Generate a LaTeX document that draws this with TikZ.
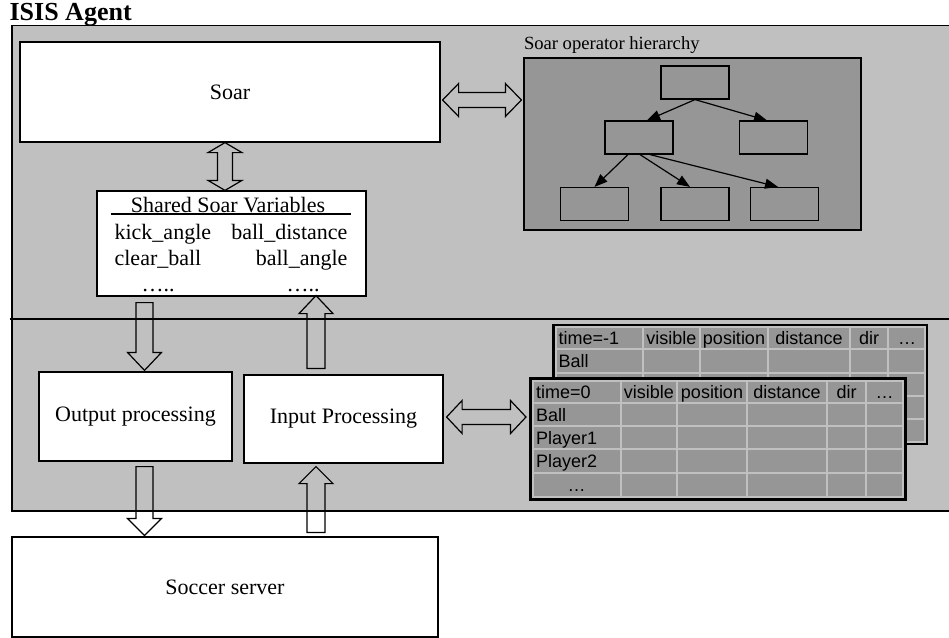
\documentclass[tikz,border=0pt]{standalone}
\usepackage{fontspec}
\setmainfont{Liberation Serif}
\newfontfamily\cellfont{Liberation Sans}
\usetikzlibrary{arrows.meta,calc}

\definecolor{agentgray}{HTML}{C0C0C0}
\definecolor{opgray}{HTML}{969696}

% hollow block arrows: from, to, half shaft, half head, head length
\newcommand{\onewayarrow}[5]{%
  \coordinate (fa-s) at #1;
  \coordinate (fa-e) at #2;
  \coordinate (fa-h) at ($(fa-e)!#5!(fa-s)$);
  \draw[blockarrow] ($(fa-s)!#3!90:(fa-e)$) -- ($(fa-h)!#3!90:(fa-e)$)
    -- ($(fa-h)!#4!90:(fa-e)$) -- (fa-e) -- ($(fa-h)!#4!-90:(fa-e)$)
    -- ($(fa-h)!#3!-90:(fa-e)$) -- ($(fa-s)!#3!-90:(fa-e)$) -- cycle;
}
\newcommand{\twowayarrow}[5]{%
  \coordinate (fa-s) at #1;
  \coordinate (fa-e) at #2;
  \coordinate (fa-a) at ($(fa-s)!#5!(fa-e)$);
  \coordinate (fa-b) at ($(fa-e)!#5!(fa-s)$);
  \draw[blockarrow] (fa-s) -- ($(fa-a)!#4!90:(fa-e)$) -- ($(fa-a)!#3!90:(fa-e)$)
    -- ($(fa-b)!#3!90:(fa-e)$) -- ($(fa-b)!#4!90:(fa-e)$) -- (fa-e)
    -- ($(fa-b)!#4!-90:(fa-e)$) -- ($(fa-b)!#3!-90:(fa-e)$)
    -- ($(fa-a)!#3!-90:(fa-e)$) -- ($(fa-a)!#4!-90:(fa-e)$) -- cycle;
}

\begin{document}
\begin{tikzpicture}[x=0.5pt,y=-0.5pt,>={Triangle[length=6.5pt,width=5pt]},line width=0.6pt,
  box/.style={draw,fill=white,inner sep=0pt,font=\fontsize{11}{13}\selectfont},
  opbox/.style={draw,fill=opgray,minimum width=34pt,minimum height=16.5pt,inner sep=0pt},
  blockarrow/.style={draw,line width=0.6pt,line join=miter},
  varlabel/.style={inner sep=0pt,font=\fontsize{11}{13}\selectfont},
  celltext/.style={inner sep=0pt,font=\cellfont\fontsize{9}{11}\selectfont},
  tableframe/.style={draw,fill=agentgray,inner sep=0pt}]

\useasboundingbox (0,0) rectangle (949,638);

% agent area
\fill[agentgray] (12,25.5) rectangle (949,511);
\draw (949,25.5) -- (12,25.5) -- (12,511) -- (949,511);
\draw[line width=1.1pt] (10,319.3) -- (949,319.3);
\node[anchor=base west,inner sep=0pt,font=\bfseries\fontsize{13}{15}\selectfont] (title) at (9,20) {ISIS Agent};

\node[box,minimum width=210pt,minimum height=50pt]   (soar)   at (230,92)    {Soar};
\node[box,minimum width=134.5pt,minimum height=52.5pt] (shared) at (231.5,243.5) {};
\node[box,minimum width=96.5pt,minimum height=44.5pt] (out)    at (135.5,416.5) {Output processing};
\node[box,minimum width=99.5pt,minimum height=44pt]   (inp)    at (343.5,419)  {Input Processing};
\node[box,minimum width=213pt,minimum height=50pt]   (soccer) at (225,587)    {Soccer server};

% shared variables
\node[varlabel,anchor=base] (sharedtitle) at (228,212) {Shared Soar Variables};
\draw (111,214) -- (351,214);
\node[varlabel,anchor=base west] (kick)  at (114,239) {kick\_angle};
\node[varlabel,anchor=base east] (dist)  at (348,239) {ball\_distance};
\node[varlabel,anchor=base west] (clear) at (114,265) {clear\_ball};
\node[varlabel,anchor=base east] (angle) at (348,265) {ball\_angle};
\node[varlabel,anchor=base] (moreout) at (158,291) {…..};
\node[varlabel,anchor=base] (morein)  at (303,291) {…..};

% operator hierarchy
\node[draw,fill=opgray,minimum width=168.5pt,minimum height=86pt,inner sep=0pt] (hier) at (692.5,144) {};
\node[anchor=base west,inner sep=0pt,font=\fontsize{9.3}{11}\selectfont] (hiertitle)
  at ($(hier.north west)+(0,-8)$) {Soar operator hierarchy};
\node[opbox] (top) at (695,82.5)  {};
\node[opbox] (ml)  at (639,137.5) {};
\node[opbox] (mr)  at (773.5,137.5) {};
\node[opbox] (b1)  at (594.5,204) {};
\node[opbox] (b2)  at (695,204)   {};
\node[opbox] (b3)  at (784.5,204) {};

\path[->]
(top.south) edge ([xshift=4pt]ml.north)
(top.south) edge ([xshift=-3.25pt]mr.north)
([xshift=-5.5pt]ml.south) edge (b1.north)
([xshift=0.5pt]ml.south)  edge ([xshift=-2.5pt]b2.north)
([xshift=5.5pt]ml.south)  edge ([xshift=-3.25pt]b3.north)
;

% percept tables
\node[tableframe,line width=1.2pt,minimum width=186.85pt,minimum height=59.35pt] (before) at (740.15,384.35) {};
\fill[opgray] (556.5,328) rectangle (923.8,440.5);
\foreach \xx in {643,700,768,850,888}
  \draw[agentgray,line width=1pt] (\xx,328) -- (\xx,440.5);
\foreach \yy in {349,373,396,419}
  \draw[agentgray,line width=1pt] (556.5,\yy) -- (923.8,\yy);
\node[celltext,anchor=base west] (beforetime) at (558,344.5) {time=-1};
\foreach \txt/\xx [count=\i] in {visible/671.5,position/734,distance/809,dir/869,…/907}
  \node[celltext,anchor=base] (beforehead\i) at (\xx,344.5) {\txt};
\node[celltext,anchor=base west] (beforeball) at (558,367.5) {Ball};

\node[tableframe,line width=1.5pt,minimum width=187.85pt,minimum height=60.5pt] (now) at (717.85,438.5) {};
\fill[opgray] (533.5,381.5) rectangle (902.2,495.5);
\foreach \xx in {621,677,747,827,866}
  \draw[agentgray,line width=1pt] (\xx,381.5) -- (\xx,495.5);
\foreach \yy in {403,426,449,473}
  \draw[agentgray,line width=1pt] (533.5,\yy) -- (902.2,\yy);
\node[celltext,anchor=base west] (nowtime) at (535.5,398) {time=0};
\foreach \txt/\xx [count=\i] in {visible/649,position/712,distance/787,dir/846.5,…/884.5}
  \node[celltext,anchor=base] (nowhead\i) at (\xx,398) {\txt};
\foreach \txt/\yy [count=\i] in {Ball/421,Player1/444,Player2/467.5}
  \node[celltext,anchor=base west] (nowrow\i) at (535.5,\yy) {\txt};
\node[celltext,anchor=base] (nowmore) at (576.5,491.5) {…};

% block arrows
\twowayarrow{($(soar.east)+(2,8)$)}{($(soar.east -| hier.west)+(-2,8)$)}{3.75pt}{8.25pt}{8pt}
\twowayarrow{($(soar.south)+(-5,0)$)}{($(soar.south |- shared.north)+(-5,0)$)}{3.75pt}{8.5pt}{5pt}
\onewayarrow{($(out.north |- shared.south)+(9,6)$)}{($(out.north)+(9,-1)$)}{4.25pt}{8.5pt}{9pt}
\onewayarrow{($(inp.north)+(-27.5,-6)$)}{($(inp.north |- shared.south)+(-27.5,-1)$)}{4.5pt}{8.5pt}{9pt}
\onewayarrow{($(out.south)+(9,5)$)}{($(out.south |- soccer.north)+(9,-1)$)}{4.25pt}{8.5pt}{8.5pt}
\onewayarrow{($(inp.south |- soccer.north)+(-27.5,-4)$)}{($(inp.south)+(-27.5,3)$)}{4.5pt}{8.5pt}{8.5pt}
\twowayarrow{($(inp.east)+(3,-2)$)}{($(inp.east -| now.west)+(-2.5,-2)$)}{3.75pt}{8.25pt}{7.75pt}

\end{tikzpicture}
\end{document}
